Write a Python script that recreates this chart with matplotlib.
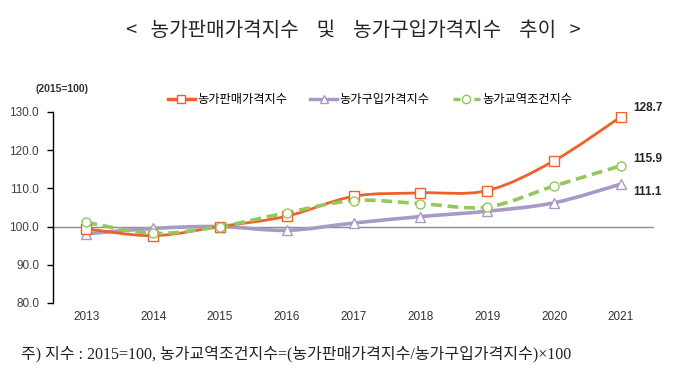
import matplotlib
matplotlib.use('Agg')
import matplotlib.pyplot as plt
from matplotlib.path import Path
from matplotlib.patches import PathPatch
from matplotlib.lines import Line2D
import numpy as np

plt.rcParams['font.family'] = ['Noto Sans CJK KR', 'DejaVu Sans']

years = ['2013', '2014', '2015', '2016', '2017', '2018', '2019', '2020', '2021']
sales_idx = [99.4, 97.6, 100.0, 102.7, 107.9, 108.8, 109.4, 117.2, 128.7]
purchase_idx = [98.1, 99.5, 100.0, 99.0, 100.9, 102.6, 104.0, 106.2, 111.1]
tot_idx = [101.1, 98.2, 100.0, 103.6, 106.8, 106.0, 105.1, 110.6, 115.9]
labels = ['농가판매가격지수', '농가구입가격지수', '농가교역조건지수']

c_sales = '#F0602A'
c_purch = '#A899C6'
c_tot = '#93C85C'


def smooth_path(x, y):
    # excel-like smoothed line (catmull-rom -> bezier)
    n = len(x)
    verts = [(x[0], y[0])]
    codes = [Path.MOVETO]
    for i in range(n - 1):
        a = i - 1 if i > 0 else i
        d = i + 2 if i + 2 < n else i + 1
        c1 = (x[i] + (x[i + 1] - x[a]) / 6.0, y[i] + (y[i + 1] - y[a]) / 6.0)
        c2 = (x[i + 1] - (x[d] - x[i]) / 6.0, y[i + 1] - (y[d] - y[i]) / 6.0)
        verts += [c1, c2, (x[i + 1], y[i + 1])]
        codes += [Path.CURVE4] * 3
    return Path(verts, codes)


fig = plt.figure(figsize=(6.88, 3.83), dpi=100)
ax = fig.add_axes([0.077, 0.209, 0.874, 0.499])

xs = np.arange(len(years))
ax.axhline(100, color='#8C8C8C', lw=1.0, zorder=1)

series = [
    (purchase_idx, c_purch, '^', '-', 2.6),
    (sales_idx, c_sales, 's', '-', 2.0),
    (tot_idx, c_tot, 'o', (0, (3, 1.6)), 2.6),
]
for vals, col, mk, ls, lw in series:
    p = PathPatch(smooth_path(xs, vals), facecolor='none', edgecolor=col,
                  lw=lw, linestyle=ls, transform=ax.transData, zorder=2,
                  capstyle='butt')
    ax.add_patch(p)
    ax.plot(xs, vals, linestyle='none', marker=mk, ms=6.5, mfc='white',
            mec=col, mew=1.0, zorder=3)

ax.set_xlim(-0.5, 8.5)
ax.set_ylim(80, 130)
ax.set_yticks([80, 90, 100, 110, 120, 130])
ax.set_yticklabels(['80.0', '90.0', '100.0', '110.0', '120.0', '130.0'],
                   family=['Liberation Sans', 'DejaVu Sans'], fontsize=8.5,
                   color='#404040')
ax.set_xticks(xs)
ax.set_xticklabels(years, family=['Liberation Sans Narrow', 'Liberation Sans'],
                   fontsize=8.5, color='#333333')
ax.tick_params(axis='x', length=0, pad=6)
ax.tick_params(axis='y', direction='out', length=4, width=1, color='black', pad=6)
for s in ['top', 'right', 'bottom']:
    ax.spines[s].set_visible(False)
ax.spines['left'].set_color('black')
ax.spines['left'].set_linewidth(1)

# end labels
for vals, dy in [(sales_idx, 6.0), (tot_idx, 4.5), (purchase_idx, -5.5)]:
    ax.annotate(f'{vals[-1]:.1f}', (8, vals[-1]), xytext=(9, dy),
                textcoords='offset points', fontsize=8.5, fontweight='bold',
                color='#262626', family=['Liberation Sans', 'DejaVu Sans'],
                va='center', ha='left')

handles = [
    Line2D([], [], color=c_sales, lw=2.5, marker='s', ms=6, mfc='white', mec=c_sales),
    Line2D([], [], color=c_purch, lw=2.5, marker='^', ms=6, mfc='white', mec=c_purch),
    Line2D([], [], color=c_tot, lw=2.5, ls=(0, (2, 1)), marker='o', ms=6, mfc='white', mec=c_tot),
]
fig.legend(handles, labels, loc='center', bbox_to_anchor=(0.538, 1 - 100 / 383),
           ncol=3, frameon=False, fontsize=8.8, handlelength=2.2,
           handletextpad=0.2, columnspacing=1.9)

fig.text(0.09, 1 - 89 / 383, '(2015=100)', fontsize=7.5, fontweight='bold',
         family=['Liberation Sans', 'DejaVu Sans'], color='#333333',
         ha='center', va='center')

fig.text(0.513, 1 - 31 / 383, '<   농가판매가격지수    및    농가구입가격지수    추이   >',
         fontsize=14.5, ha='center', va='center', color='#262626')

fig.text(0.03, 1 - 354 / 383,
         '주) 지수 : 2015=100, 농가교역조건지수=(농가판매가격지수/농가구입가격지수)×100',
         fontsize=11.5, family=['Liberation Serif', 'Noto Sans CJK KR'],
         ha='left', va='center', color='#222222')

fig.savefig('out.png', dpi=100)
